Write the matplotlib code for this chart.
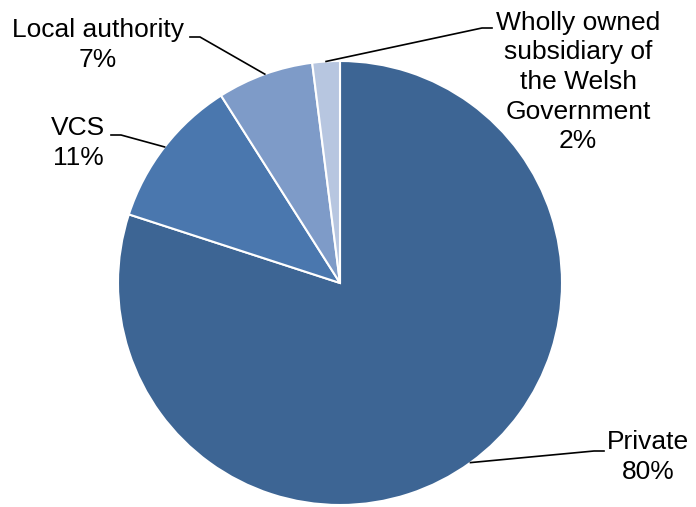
import matplotlib
matplotlib.use("Agg")
import matplotlib.pyplot as plt
import numpy as np

plt.rcParams['font.family'] = ['Liberation Sans', 'DejaVu Sans']

# Share of providers by type
labels = ['Private', 'VCS', 'Local authority',
          'Wholly owned\nsubsidiary of\nthe Welsh\nGovernment']
shares = [80, 11, 7, 2]
colors = ['#3d6594', '#4a77ae', '#7e9bc8', '#b7c6e0']

# label text anchors and leader line bends (pixel coords, y up)
label_xy = [(648, 50), (78, 364), (98, 462), (578, 425)]
bend_xy = [(594, 56), (121, 372), (200, 470), (482, 479)]

fig = plt.figure(figsize=(6.96, 5.07), dpi=100)
ax = fig.add_axes([0, 0, 1, 1])

cx, cy, r = 340, 224, 222
wedges, _ = ax.pie(shares, colors=colors, startangle=90, counterclock=False,
                   center=(cx, cy), radius=r,
                   wedgeprops=dict(edgecolor='white', linewidth=1.5))
ax.set_xlim(0, 696)
ax.set_ylim(0, 507)
ax.set_aspect('equal')
ax.axis('off')

for w, lab, val, (tx, ty), (bx, by) in zip(wedges, labels, shares, label_xy, bend_xy):
    mid = np.deg2rad((w.theta1 + w.theta2) / 2)
    ex, ey = cx + r * np.cos(mid), cy + r * np.sin(mid)
    side = -1 if tx < cx else 1
    ax.plot([ex, bx, bx + side * 10], [ey, by, by], color='black', lw=1.2)
    ax.text(tx, ty, f'{lab}\n{val}%', ha='center', va='center',
            fontsize=19, linespacing=1.3)

fig.savefig('out.png', dpi=100)
